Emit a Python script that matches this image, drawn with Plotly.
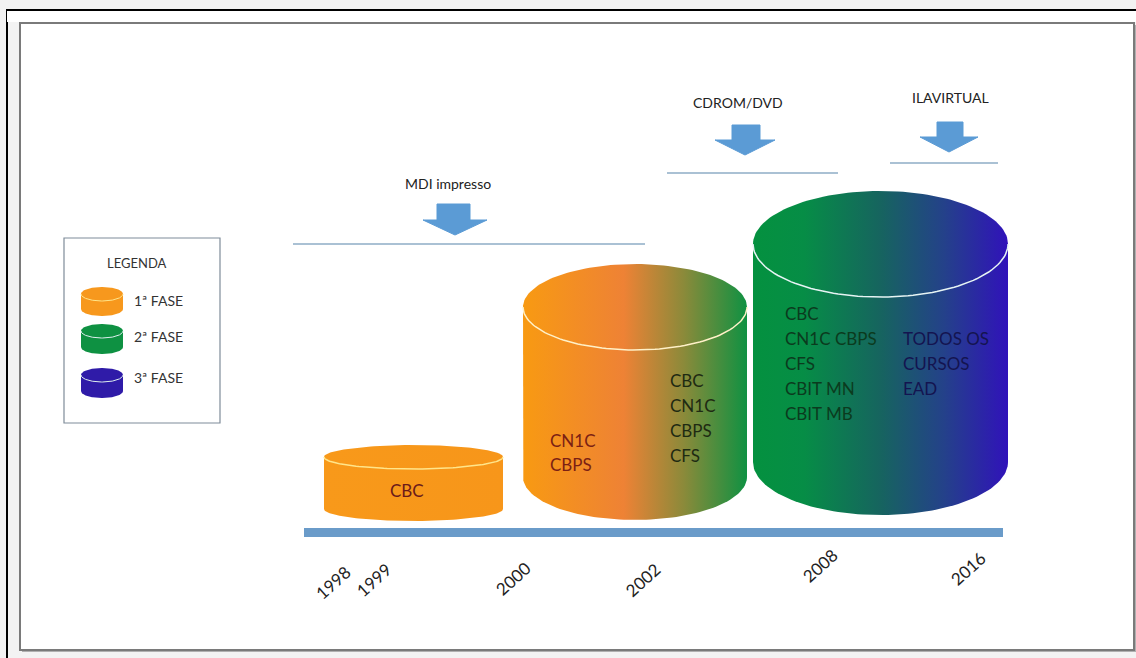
import numpy as np
import plotly.graph_objects as go

# ---------------- data ----------------
phases = ["1ª FASE", "2ª FASE", "3ª FASE"]
phase_colors = ["#F7981D", "#0E9142", "#2F1BA8"]
years = ["1998", "1999", "2000", "2002", "2008", "2016"]
media = ["MDI impresso", "CDROM/DVD", "ILAVIRTUAL"]
cyl_left_text = [["CBC"], ["CN1C", "CBPS"], ["CBC", "CN1C CBPS", "CFS", "CBIT MN", "CBIT MB"]]
cyl_right_text = [[], ["CBC", "CN1C", "CBPS", "CFS"], ["TODOS OS", "CURSOS", "EAD"]]

# ---------------- layout / style ----------------
W, H = 1136, 658
FONT = "Lato"
cyl_geo = [
    dict(x0=324, x1=503, ytop=457, ybot=509, ry=12),
    dict(x0=523, x1=747, ytop=307, ybot=477, ry=43),
    dict(x0=753, x1=1008, ytop=244, ybot=462, ry=53),
]
cyl_scales = [
    [[0, "#F8991A"], [1, "#F7961A"]],
    [[0, "#F89A12"], [0.45, "#EE8235"], [0.72, "#8A8A3A"], [1, "#0F9142"]],
    [[0, "#04913F"], [0.2, "#068D46"], [0.5, "#16645F"], [0.75, "#24418A"], [1, "#3012BA"]],
]
rim_colors = ["#FFE58A", "#FFF1C8", "#E6F4F4"]
left_text_pos = [dict(x=407, y=490, dy=25, anchor="center"),
                 dict(x=548, y=440, dy=24, anchor="left"),
                 dict(x=783, y=313, dy=25, anchor="left")]
right_text_pos = [None, dict(x=668, y=380, dy=25), dict(x=901, y=338, dy=25)]
left_text_col = ["#6B1A1A", "#7B1F14", "#0B3B1E"]
right_text_col = [None, "#1E2A12", "#141450"]
year_pos = [(333, 582), (373, 580), (513, 578), (642, 580), (820, 565), (968, 568)]
media_text = [(448, 183), (738, 102), (950, 97)]
arrow_geo = [  # shaft x0,x1, top, shaft bottom, head x0,x1, tip
    (437, 470, 204, 220, 423, 487, 235),
    (732, 760, 125, 140, 715, 775, 155),
    (937, 963, 122, 137, 920, 978, 152),
]
sep_lines = [(293, 645, 244), (667, 838, 173), (890, 998, 163)]
legend_cyl = [(81, 123, 294, 309, 7), (81, 123, 331, 347, 7), (81, 123, 375, 391, 7)]
legend_text_y = [300, 336, 377]

fig = go.Figure()
shapes = []
annotations = []

# frames
shapes.append(dict(type="rect", x0=0, y0=0, x1=W, y1=H, fillcolor="#F2F2F2", line=dict(width=0), layer="below"))
shapes.append(dict(type="rect", x0=7, y0=10, x1=W + 10, y1=H + 10, fillcolor="#F3F3F3",
                   line=dict(color="#000000", width=2), layer="below"))
shapes.append(dict(type="rect", x0=7, y0=10, x1=W + 10, y1=22, fillcolor="#FFFFFF", line=dict(width=0), layer="below"))
shapes.append(dict(type="line", x0=7, y0=10, x1=W + 10, y1=10, line=dict(color="#000000", width=2), layer="below"))
shapes.append(dict(type="rect", x0=22, y0=25, x1=1136, y1=652, fillcolor="#B0B0B0", line=dict(width=0), layer="below"))
shapes.append(dict(type="rect", x0=20, y0=23, x1=1134, y1=650, fillcolor="#FFFFFF",
                   line=dict(color="#7A7A7A", width=2), layer="below"))

# legend box (below traces so legend cylinders show)
shapes.append(dict(type="rect", x0=64, y0=238, x1=220, y1=423, fillcolor="#FFFFFF",
                   line=dict(color="#7F8C99", width=1.2), layer="below"))

# separator lines
for (xa, xb, yy) in sep_lines:
    shapes.append(dict(type="line", x0=xa, x1=xb, y0=yy, y1=yy, line=dict(color="#8EADC6", width=1.5)))

# timeline bar
shapes.append(dict(type="rect", x0=304, x1=1003, y0=528, y1=537, fillcolor="#6A9BC9", line=dict(width=0)))


def cylinder(x0, x1, ytop, ybot, ry, scale=None, color=None, rim="#FFFFFF", rimw=1.5):
    cx = (x0 + x1) / 2
    rx = (x1 - x0) / 2
    t_up = np.linspace(0, np.pi, 80)          # upper half of top ellipse, right -> left
    xs_top = cx + rx * np.cos(t_up)
    ys_top = ytop - ry * np.sin(t_up)
    t_dn = np.linspace(np.pi, 2 * np.pi, 80)  # lower half of bottom ellipse, left -> right
    xs_bot = cx + rx * np.cos(t_dn)
    ys_bot = ybot - ry * np.sin(t_dn)
    xs = np.concatenate([xs_top, xs_bot, [xs_top[0]]])
    ys = np.concatenate([ys_top, ys_bot, [ys_top[0]]])
    kw = dict(x=xs, y=ys, mode="lines", fill="toself", line=dict(width=0),
              hoverinfo="skip", showlegend=False)
    if scale is not None:
        kw["fillgradient"] = dict(type="horizontal", colorscale=scale)
    else:
        kw["fillcolor"] = color
    fig.add_trace(go.Scatter(**kw))
    # rim: lower half of top ellipse
    t_r = np.linspace(np.pi, 2 * np.pi, 80)
    fig.add_trace(go.Scatter(x=cx + rx * np.cos(t_r), y=ytop - ry * np.sin(t_r), mode="lines",
                             line=dict(color=rim, width=rimw), hoverinfo="skip", showlegend=False))


for i, g in enumerate(cyl_geo):
    cylinder(g["x0"], g["x1"], g["ytop"], g["ybot"], g["ry"], scale=cyl_scales[i], rim=rim_colors[i])
    lp = left_text_pos[i]
    for j, t in enumerate(cyl_left_text[i]):
        annotations.append(dict(x=lp["x"], y=lp["y"] + j * lp["dy"], text=t, showarrow=False,
                                xanchor=lp["anchor"], yanchor="middle",
                                font=dict(family=FONT, size=17, color=left_text_col[i])))
    rp = right_text_pos[i]
    if rp is not None:
        for j, t in enumerate(cyl_right_text[i]):
            annotations.append(dict(x=rp["x"], y=rp["y"] + j * rp["dy"], text=t, showarrow=False,
                                    xanchor="left", yanchor="middle",
                                    font=dict(family=FONT, size=17, color=right_text_col[i])))

# arrows and media labels
for k, m in enumerate(media):
    sx0, sx1, top, sb, hx0, hx1, tip = arrow_geo[k]
    tipx = (hx0 + hx1) / 2
    ax = [sx0, sx1, sx1, hx1, tipx, hx0, sx0, sx0]
    ay = [top, top, sb, sb, tip, sb, sb, top]
    fig.add_trace(go.Scatter(x=ax, y=ay, mode="lines", fill="toself", fillcolor="#5B9BD5",
                             line=dict(color="#5B9BD5", width=1), hoverinfo="skip", showlegend=False))
    annotations.append(dict(x=media_text[k][0], y=media_text[k][1], text=m, showarrow=False,
                            xanchor="center", yanchor="middle",
                            font=dict(family=FONT, size=14, color="#222222")))

# year labels
for yl, (px, py) in zip(years, year_pos):
    annotations.append(dict(x=px, y=py, text=yl, showarrow=False, textangle=-42,
                            xanchor="center", yanchor="middle",
                            font=dict(family=FONT, size=17, color="#222222")))

# legend
annotations.append(dict(x=137, y=263, text="LEGENDA", showarrow=False, xanchor="center", yanchor="middle",
                        font=dict(family=FONT, size=13, color="#333333")))
for k, p in enumerate(phases):
    x0, x1, yt, yb, ry = legend_cyl[k]
    rim = "#FFE58A" if k == 0 else "#DDEEEE"
    cylinder(x0, x1, yt, yb, ry, color=phase_colors[k], rim=rim, rimw=1)
    annotations.append(dict(x=132, y=legend_text_y[k], text=p, showarrow=False, xanchor="left",
                            yanchor="middle", font=dict(family=FONT, size=14, color="#333333")))

fig.update_layout(
    width=W, height=H, margin=dict(l=0, r=0, t=0, b=0),
    paper_bgcolor="#FFFFFF", plot_bgcolor="#FFFFFF",
    xaxis=dict(range=[0, W], visible=False, fixedrange=True),
    yaxis=dict(range=[H, 0], visible=False, fixedrange=True),
    shapes=shapes, annotations=annotations, showlegend=False,
)
fig.write_html("out.html")
